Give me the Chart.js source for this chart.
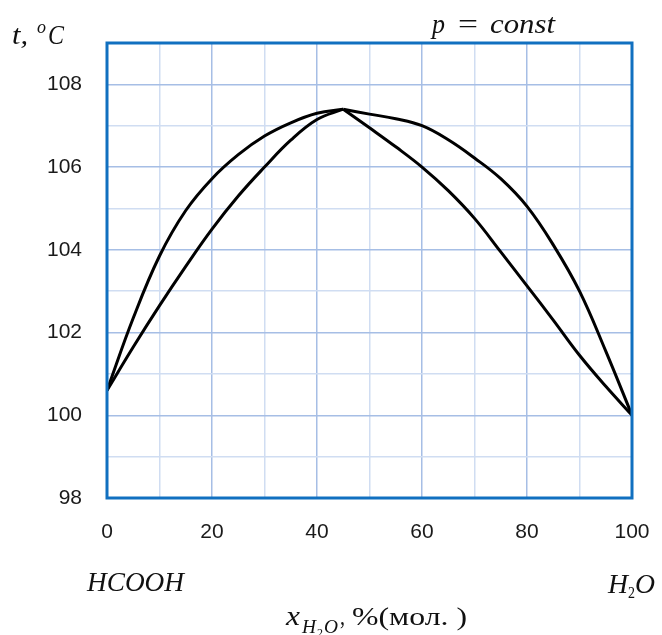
<!DOCTYPE html>
<html>
<head>
<meta charset="utf-8">
<script src="https://cdn.jsdelivr.net/npm/chart.js@4"></script>
<style>
  body { margin: 0; background: #fff; }
  #wrap { width: 662px; height: 635px; }
</style>
</head>
<body>
<div id="wrap"><canvas id="chart" width="662" height="635"></canvas></div>
<script>
// composition, % mol H2O
var xLeft = [0, 5, 10, 15, 20, 25, 30, 35, 40, 45]
var xRight = [45, 50, 55, 60, 65, 70, 75, 80, 85, 90, 95, 100]
// boiling (lower) curve
var boilLeft = [100.6, 101.65, 102.65, 103.6, 104.5, 105.3, 106.0, 106.65, 107.15, 107.4]
var boilRight = [107.4, 106.95, 106.49, 106.0, 105.43, 104.76, 103.95, 103.13, 102.3, 101.45, 100.7, 100.0]
// dew (upper) curve
var dewLeft = [100.6, 102.35, 103.85, 104.95, 105.72, 106.3, 106.75, 107.07, 107.3, 107.4]
var dewRight = [107.4, 107.28, 107.17, 107.0, 106.66, 106.22, 105.72, 105.05, 104.12, 103.0, 101.55, 100.0]

var xMin = 0, xMax = 100, xStep = 10
var yMin = 98, yMax = 109, yStep = 1

function pts(xs, ys) {
    var out = []
    for (var i = 0; i < xs.length; i++) out.push({x: xs[i], y: ys[i]})
    return out
}

function line(data) {
    return {
        data: data,
        showLine: true,
        borderColor: '#000',
        borderWidth: 3,
        pointRadius: 0,
        tension: 0.4,
        fill: false
    }
}

var majorGrid = '#a6bee5'
var minorGrid = '#d0ddf2'

var boxPlugin = {
    id: 'box',
    afterDatasetsDraw: function(chart) {
        var a = chart.chartArea, c = chart.ctx
        c.save()
        c.strokeStyle = '#1170c0'
        c.lineWidth = 3
        c.strokeRect(a.left, a.top, a.right - a.left, a.bottom - a.top)
        c.restore()
    }
}

function put(c, txt, x, y, font, w) {
    c.font = font
    var m = c.measureText(txt).width
    c.save()
    c.translate(x, y)
    if (w) c.scale(w / m, 1)
    c.fillText(txt, 0, 0)
    c.restore()
}

var textPlugin = {
    id: 'texts',
    afterDraw: function(chart) {
        var c = chart.ctx
        c.save()
        c.fillStyle = '#111'
        c.textBaseline = 'alphabetic'
        c.textAlign = 'left'
        // y axis title
        put(c, 't,', 12, 44, 'italic 28px "Liberation Serif"', 16)
        put(c, 'o', 37, 33, 'italic 19px "Liberation Serif"', 9)
        put(c, 'C', 48, 44, 'italic 28px "Liberation Serif"', 16)
        // p = const
        put(c, 'p', 432, 33, 'italic 27px "Liberation Serif"', 13)
        put(c, '=', 458, 33, '27px "Liberation Serif"', 20)
        put(c, 'const', 490, 33, 'italic 27px "Liberation Serif"', 65)
        // components
        put(c, 'HCOOH', 87, 591, 'italic 28px "Liberation Serif"', 97)
        put(c, 'H', 608, 593, 'italic 27px "Liberation Serif"', 20)
        put(c, '2', 628, 598, '16px "Liberation Serif"', 7)
        put(c, 'O', 635, 593, 'italic 27px "Liberation Serif"', 20)
        // x axis title
        put(c, 'x', 286, 625, 'italic 28px "Liberation Serif"', 14)
        put(c, 'H', 302, 633, 'italic 18px "Liberation Serif"', 14)
        put(c, '2', 317, 637, '12px "Liberation Serif"', 6)
        put(c, 'O', 324, 633, 'italic 18px "Liberation Serif"', 14)
        put(c, ',', 340, 625, '26px "Liberation Serif"', 5)
        put(c, '%(мол. )', 352, 625, '26px "Liberation Serif"', 115)
        c.restore()
    }
}

var ctx = document.getElementById('chart').getContext('2d')
new Chart(ctx, {
    type: 'scatter',
    data: {
        datasets: [
            line(pts(xLeft, boilLeft)),
            line(pts(xRight, boilRight)),
            line(pts(xLeft, dewLeft)),
            line(pts(xRight, dewRight))
        ]
    },
    options: {
        responsive: false,
        animation: false,
        layout: { padding: { left: 0, top: 43, right: 30, bottom: 0 } },
        plugins: {
            legend: { display: false },
            tooltip: { enabled: false }
        },
        scales: {
            x: {
                type: 'linear',
                min: xMin,
                max: xMax,
                afterFit: function(s) {
                    s.height = 137
                    s.paddingLeft = 0
                    s.paddingRight = 0
                },
                border: { display: false },
                grid: {
                    drawTicks: false,
                    lineWidth: 1.5,
                    color: function(c) { return c.tick && c.tick.value % 20 === 0 ? majorGrid : minorGrid }
                },
                ticks: {
                    stepSize: xStep,
                    autoSkip: false,
                    maxRotation: 0,
                    padding: 22,
                    color: '#1a1a1a',
                    font: { family: '"Liberation Sans"', size: 21 },
                    callback: function(v) { return v % 20 === 0 ? v : '' }
                }
            },
            y: {
                min: yMin,
                max: yMax,
                afterFit: function(s) {
                    s.width = 107
                    s.paddingTop = 0
                    s.paddingBottom = 0
                },
                border: { display: false },
                grid: {
                    drawTicks: false,
                    lineWidth: 1.5,
                    color: function(c) { return c.tick && c.tick.value % 2 === 0 ? majorGrid : minorGrid }
                },
                ticks: {
                    stepSize: yStep,
                    autoSkip: false,
                    padding: 25,
                    color: '#1a1a1a',
                    font: { family: '"Liberation Sans"', size: 21 },
                    callback: function(v) { return v % 2 === 0 ? v : '' }
                }
            }
        }
    },
    plugins: [boxPlugin, textPlugin]
})
</script>
</body>
</html>
